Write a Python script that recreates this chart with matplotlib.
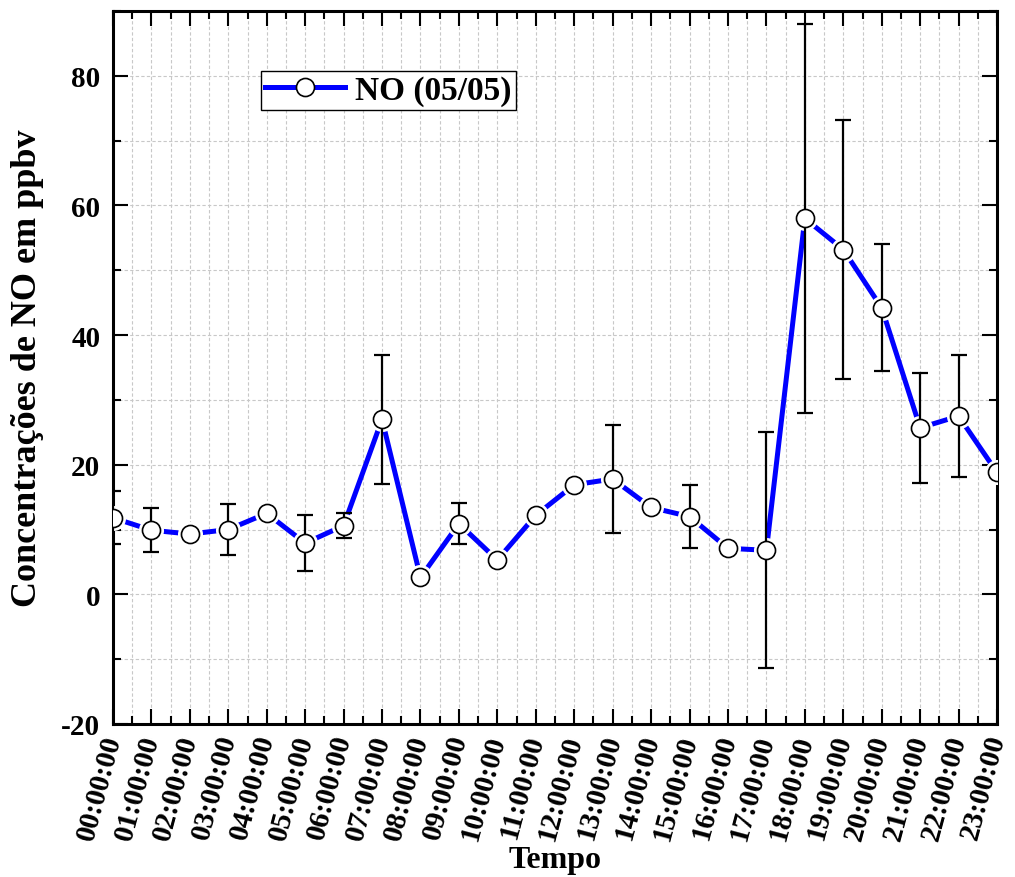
import numpy as np
import matplotlib
matplotlib.use("Agg")
import matplotlib.pyplot as plt
from matplotlib.ticker import MultipleLocator

# data
hours = np.arange(24)
hour_labels = ["%02d:00:00" % h for h in hours]
no_conc = [11.8, 9.9, 9.3, 10.0, 12.5, 7.9, 10.6, 27.0, 2.6, 10.9, 5.3, 12.2,
           16.9, 17.8, 13.4, 12.0, 7.1, 6.8, 58.0, 53.2, 44.2, 25.7, 27.5, 18.8]
no_err = [4.1, 3.4, np.nan, 4.0, np.nan, 4.3, 1.9, 9.9, np.nan, 3.2, np.nan, np.nan,
          np.nan, 8.4, np.nan, 4.9, np.nan, 18.2, 30.0, 20.0, 9.8, 8.5, 9.4, np.nan]

plt.rcParams['font.family'] = ['Liberation Serif', 'DejaVu Serif']
plt.rcParams['font.weight'] = 'bold'
plt.rcParams['axes.unicode_minus'] = False

fig = plt.figure(figsize=(10.15, 8.78), dpi=100)
ax = fig.add_axes([0.1113, 0.1743, 0.8710, 0.8120])

x = hours
y = np.array(no_conc)
e = np.array(no_err)
has_err = ~np.isnan(e)

ax.plot(x, y, color='blue', lw=3.6, zorder=3, solid_capstyle='round')
# white halo so the line stops short of the markers
ax.plot(x, y, ls='none', marker='o', ms=17, mfc='white', mec='white', zorder=4)
ax.errorbar(x[has_err], y[has_err], yerr=e[has_err], fmt='none', ecolor='black',
            elinewidth=1.6, capsize=5.5, capthick=1.6, zorder=5)
ax.plot(x, y, ls='none', marker='o', ms=13, mfc='white', mec='black', mew=1.2,
        zorder=6)

# legend proxy
ax.plot([], [], color='blue', lw=3.6, marker='o', ms=13, mfc='white', mec='black',
        mew=1.2, label='NO (05/05)')
leg = ax.legend(loc='upper left', bbox_to_anchor=(0.168, 0.916), fancybox=False,
                framealpha=1, edgecolor='black', fontsize=24, handlelength=2.4,
                handletextpad=0.3, borderpad=0.12, borderaxespad=0)
leg.get_frame().set_linewidth(1.0)

ax.set_xlim(0, 23)
ax.set_ylim(-20, 90)
ax.set_xticks(hours)
ax.set_xticklabels(hour_labels, rotation=75, ha='right', va='center',
                   rotation_mode='anchor')
ax.xaxis.set_minor_locator(MultipleLocator(0.5))
ax.yaxis.set_major_locator(MultipleLocator(20))
ax.yaxis.set_minor_locator(MultipleLocator(10))

ax.tick_params(which='both', direction='in', top=True, right=True, width=1.5)
ax.tick_params(which='major', length=11, labelsize=21)
ax.tick_params(which='minor', length=6)
ax.tick_params(axis='y', which='major', pad=9)
ax.tick_params(axis='x', which='major', pad=8)

ax.grid(True, which='both', color='#c8c8c8', ls=(0, (3, 2)), lw=0.8, zorder=0)
ax.set_axisbelow(True)

for s in ax.spines.values():
    s.set_linewidth(2.2)

ax.set_xlabel('Tempo', fontsize=23, fontweight='bold', labelpad=2)
ax.set_ylabel('Concentrações de NO em ppbv', fontsize=26, fontweight='bold')
ax.yaxis.set_label_coords(-0.078, 0.5)

fig.savefig('out.png', dpi=100)
